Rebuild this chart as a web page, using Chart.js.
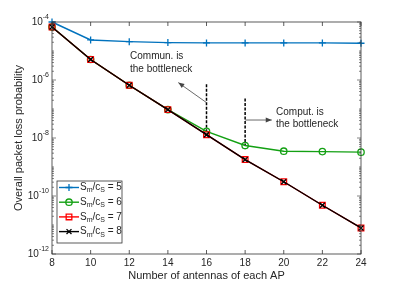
<!DOCTYPE html>
<html>
<head>
<meta charset="utf-8">
<script src="https://cdn.jsdelivr.net/npm/chart.js@4/dist/chart.umd.min.js"></script>
<style>
  html, body { margin: 0; padding: 0; background: #fff; }
  canvas { display: block; }
</style>
</head>
<body>
<canvas id="lossChart" width="399" height="283"></canvas>
<script>
// antennas per AP
const antennas = [8, 10, 12, 14, 16, 18, 20, 22, 24];

// overall packet loss probability, one array per S_m/c_S ratio
const ratio5 = [1.0e-4, 2.4e-5, 2.1e-5, 1.95e-5, 1.9e-5, 1.9e-5, 1.9e-5, 1.9e-5, 1.85e-5];
const ratio6 = [6.7e-5, 5.1e-6, 6.6e-7, 9.5e-8, 1.7e-8, 5.5e-9, 3.5e-9, 3.4e-9, 3.25e-9];
const ratio7 = [6.7e-5, 5.1e-6, 6.6e-7, 9.5e-8, 1.3e-8, 1.8e-9, 3.1e-10, 4.8e-11, 7.9e-12];
const ratio8 = [6.7e-5, 5.1e-6, 6.6e-7, 9.5e-8, 1.3e-8, 1.8e-9, 3.1e-10, 4.8e-11, 7.9e-12];

const ratioNames = ['5', '6', '7', '8'];
const yTickExponents = [-4, -6, -8, -10, -12];

// annotation text
const communLines = ['Commun. is', 'the bottleneck'];
const computLines = ['Comput. is', 'the bottleneck'];

const ink = '#262626';
const font = '"Liberation Sans", Arial, Helvetica, sans-serif';

function pts(ys) {
    return antennas.map((x, i) => ({ x: x, y: ys[i] }));
}

const datasets = [
    { label: '5', data: pts(ratio5), borderColor: '#0072BD', pointStyle: 'cross', pointRadius: 3.5, order: 4 },
    { label: '6', data: pts(ratio6), borderColor: '#13A013', pointStyle: 'circle', pointRadius: 3.2, order: 3 },
    { label: '7', data: pts(ratio7), borderColor: '#FF0000', pointStyle: 'rect', pointRadius: 4, order: 2 },
    { label: '8', data: pts(ratio8), borderColor: '#000000', pointStyle: 'crossRot', pointRadius: 3.5, order: 1 }
].map(d => Object.assign(d, {
    borderWidth: 1.4,
    pointBorderColor: d.borderColor,
    pointBackgroundColor: 'rgba(0,0,0,0)',
    pointBorderWidth: 1.3,
    fill: false,
    clip: false,
    tension: 0
}));

function arrow(ctx, x1, y1, x2, y2) {
    ctx.save();
    ctx.strokeStyle = '#444';
    ctx.fillStyle = '#444';
    ctx.lineWidth = 0.8;
    ctx.beginPath();
    ctx.moveTo(x1, y1);
    ctx.lineTo(x2, y2);
    ctx.stroke();
    const a = Math.atan2(y2 - y1, x2 - x1);
    const L = 6, W = 2.5;
    ctx.beginPath();
    ctx.moveTo(x2, y2);
    ctx.lineTo(x2 - L * Math.cos(a) + W * Math.sin(a), y2 - L * Math.sin(a) - W * Math.cos(a));
    ctx.lineTo(x2 - L * Math.cos(a) - W * Math.sin(a), y2 - L * Math.sin(a) + W * Math.cos(a));
    ctx.closePath();
    ctx.fill();
    ctx.restore();
}

function dashedVertical(ctx, xs, ys, x, logTop, yBottom) {
    ctx.save();
    ctx.strokeStyle = '#000';
    ctx.lineWidth = 1.5;
    ctx.setLineDash([3, 1.5]);
    ctx.beginPath();
    ctx.moveTo(xs.getPixelForValue(x), ys.getPixelForValue(Math.pow(10, logTop)));
    ctx.lineTo(xs.getPixelForValue(x), ys.getPixelForValue(yBottom));
    ctx.stroke();
    ctx.restore();
}

// "S_m/c_S = n" with real subscripts
function ratioLabel(ctx, x, y, n) {
    const big = '10px ' + font, small = '7px ' + font;
    ctx.textBaseline = 'middle';
    ctx.textAlign = 'left';
    const parts = [['S', big, 0], ['m', small, 3], ['/c', big, 0], ['S', small, 3], [' = ' + n, big, 0]];
    parts.forEach(p => {
        ctx.font = p[1];
        ctx.fillText(p[0], x, y + p[2]);
        x += ctx.measureText(p[0]).width;
    });
}

const decorations = {
    id: 'decorations',
    beforeDatasetsDraw(chart) {
        const { ctx, scales: { x: xs, y: ys } } = chart;
        ctx.save();
        dashedVertical(ctx, xs, ys, 16, -6.15, ratio6[4]);
        dashedVertical(ctx, xs, ys, 18, -6.64, ratio6[5]);
        arrow(ctx, xs.getPixelForValue(16), ys.getPixelForValue(Math.pow(10, -6.78)),
              xs.getPixelForValue(14.54), ys.getPixelForValue(Math.pow(10, -6.09)));
        arrow(ctx, xs.getPixelForValue(18), ys.getPixelForValue(Math.pow(10, -7.38)),
              xs.getPixelForValue(19.38), ys.getPixelForValue(Math.pow(10, -7.38)));
        ctx.restore();
    },
    afterDraw(chart) {
        const { ctx, chartArea: a, scales: { x: xs, y: ys } } = chart;
        ctx.save();

        // axes box
        ctx.strokeStyle = '#333';
        ctx.lineWidth = 0.8;
        ctx.strokeRect(a.left, a.top, a.right - a.left, a.bottom - a.top);

        // x tick marks (inward, bottom and top) and labels
        ctx.fillStyle = ink;
        ctx.font = '10px ' + font;
        ctx.textAlign = 'center';
        ctx.textBaseline = 'middle';
        antennas.forEach(v => {
            const px = xs.getPixelForValue(v);
            ctx.beginPath();
            ctx.moveTo(px, a.bottom); ctx.lineTo(px, a.bottom - 4);
            ctx.moveTo(px, a.top); ctx.lineTo(px, a.top + 4);
            ctx.stroke();
            ctx.fillText(String(v), px, a.bottom + 9);
        });
        ctx.font = '11px ' + font;
        ctx.fillText('Number of antennas of each AP', (a.left + a.right) / 2, a.bottom + 22);

        // y tick marks on log scale
        ctx.lineWidth = 0.6;
        for (let e = -12; e <= -4; e++) {
            for (let m = 1; m <= 9; m++) {
                const v = m * Math.pow(10, e);
                if (v > 1e-4 * 1.0001) continue;
                const py = ys.getPixelForValue(v);
                const len = (m === 1 && e % 2 === 0) ? 4 : 2;
                ctx.beginPath();
                ctx.moveTo(a.left, py); ctx.lineTo(a.left + len, py);
                ctx.moveTo(a.right, py); ctx.lineTo(a.right - len, py);
                ctx.stroke();
            }
        }

        // y tick labels 10^e
        ctx.textAlign = 'right';
        yTickExponents.forEach(e => {
            const py = ys.getPixelForValue(Math.pow(10, e));
            const xr = a.left - 3;
            ctx.font = '7px ' + font;
            const ew = ctx.measureText(String(e)).width;
            ctx.fillText(String(e), xr, py - 5);
            ctx.font = '10px ' + font;
            ctx.fillText('10', xr - ew, py);
        });

        // y title
        ctx.save();
        ctx.translate(19, (a.top + a.bottom) / 2);
        ctx.rotate(-Math.PI / 2);
        ctx.textAlign = 'center';
        ctx.font = '11px ' + font;
        ctx.fillText('Overall packet loss probability', 0, 0);
        ctx.restore();

        // annotation text
        ctx.font = '10px ' + font;
        ctx.textAlign = 'left';
        const cx = xs.getPixelForValue(12.04), cy = ys.getPixelForValue(Math.pow(10, -5.17));
        communLines.forEach((t, i) => ctx.fillText(t, cx, cy + i * 13));
        const px2 = xs.getPixelForValue(19.6), py2 = ys.getPixelForValue(Math.pow(10, -7.1));
        computLines.forEach((t, i) => ctx.fillText(t, px2, py2 + i * 12));

        // legend
        const lx = a.left + 5, ly = 181, lw = 65, lh = 62;
        ctx.fillStyle = '#fff';
        ctx.fillRect(lx, ly, lw, lh);
        ctx.strokeStyle = '#333';
        ctx.lineWidth = 0.8;
        ctx.strokeRect(lx, ly, lw, lh);
        chart.data.datasets.forEach((d, i) => {
            const yy = ly + 6.5 + i * 14.7;
            ctx.strokeStyle = d.borderColor;
            ctx.lineWidth = d.borderWidth;
            ctx.beginPath();
            ctx.moveTo(lx + 2, yy); ctx.lineTo(lx + 22, yy);
            ctx.stroke();
            ctx.fillStyle = 'rgba(0,0,0,0)';
            ctx.lineWidth = d.pointBorderWidth;
            Chart.helpers.drawPoint(ctx, {
                pointStyle: d.pointStyle, radius: d.pointRadius, rotation: 0,
                borderWidth: d.pointBorderWidth
            }, lx + 12, yy);
            ctx.fillStyle = ink;
            ratioLabel(ctx, lx + 23, yy, ratioNames[i]);
        });

        ctx.restore();
    }
};

new Chart(document.getElementById('lossChart'), {
    type: 'line',
    data: { datasets: datasets },
    options: {
        responsive: false,
        animation: false,
        layout: { padding: { top: 22, right: 38, left: 0, bottom: 0 } },
        plugins: { legend: { display: false }, tooltip: { enabled: false } },
        scales: {
            x: {
                type: 'linear',
                min: 8, max: 24,
                grid: { display: false },
                border: { display: false },
                ticks: { display: false },
                afterFit(scale) { scale.height = 29; }
            },
            y: {
                type: 'logarithmic',
                min: 1e-12, max: 1e-4,
                grid: { display: false },
                border: { display: false },
                ticks: { display: false },
                afterFit(scale) { scale.width = 52; }
            }
        }
    },
    plugins: [decorations]
});
</script>
</body>
</html>
